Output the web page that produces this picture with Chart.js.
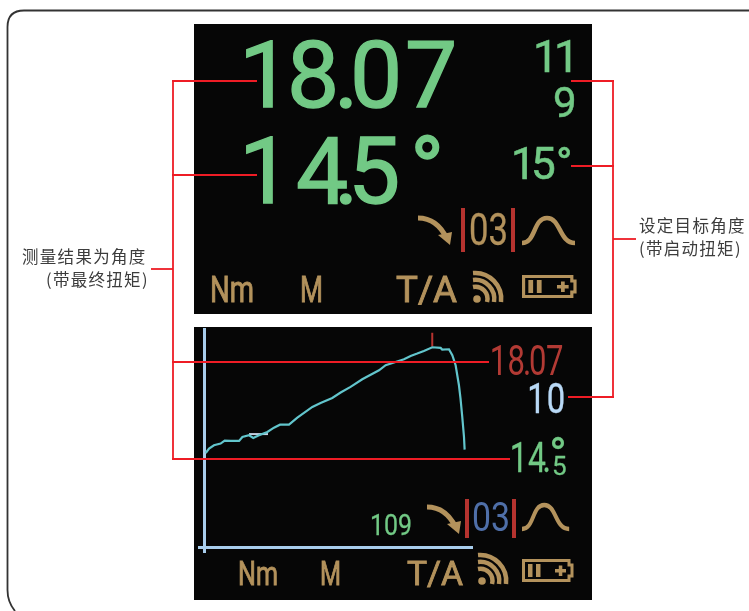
<!DOCTYPE html>
<html>
<head>
<meta charset="utf-8">
<title>测量结果为角度</title>
<script src="https://cdn.jsdelivr.net/npm/chart.js@4/dist/chart.umd.min.js"></script>
<style>
    html, body { margin: 0; padding: 0; background: #fff; overflow: hidden; }
    #page { position: relative; width: 749px; height: 611px; overflow: hidden; }
    .screen { position: absolute; left: 194px; width: 398px; background: #060606; }
    canvas, svg { position: absolute; left: 0; top: 0; }
    .num { font-family: Roboto, sans-serif; }
    .green { fill: #72c985; stroke: #72c985; }
    .tan { fill: #b3925c; stroke: #b3925c; stroke-width: .9; }
    .label { font-family: "Noto Sans CJK SC", sans-serif; font-size: 16.5px; fill: #3c3c3c; letter-spacing: 1.3px; }
    .callout line { stroke: #ee1c25; stroke-width: 1.8; }
    .ico { fill: none; stroke: #b3925c; stroke-width: 4.5; }
</style>
</head>
<body>
<div id="page">
    <svg width="749" height="611"><path d="M749 10.5 H24 Q7.5 10.5 7.5 27 V590 Q7.5 602 15 611" fill="none" stroke="#333" stroke-width="1.8"/></svg>
    <div class="screen" style="top:24px;height:290px"></div>
    <div class="screen" style="top:327px;height:273px"></div>
    <canvas id="torqueChart" width="749" height="611"></canvas>
    <svg width="749" height="611">
        <defs>
            <g id="arrow">
                <path d="M0 1 C14 1 23 9 29 22" fill="none" stroke="#b3925c" stroke-width="5"/>
                <path d="M34 15 L32 28 L20 18 Z" fill="#b3925c"/>
            </g>
            <path id="bell" class="ico" stroke-width="5" d="M0 25 C14 25 11 0 25 0 C39 0 37 25 53 25"/>
            <g id="wifi">
                <circle cx="0" cy="0" r="3.8" fill="#b3925c"/>
                <path class="ico" d="M-4 -12 A12 12 0 0 1 10 3"/>
                <path class="ico" d="M-4 -19 A19 19 0 0 1 17 3"/>
                <path class="ico" d="M-4 -26 A26 26 0 0 1 24 3"/>
            </g>
            <g id="battery">
                <path d="M1.5 1.5 H47 V6 H50 V17 H47 V21.5 H1.5 Z" fill="none" stroke="#b3925c" stroke-width="3"/>
                <rect x="6" y="5" width="4.5" height="13" fill="#b3925c"/>
                <rect x="14" y="5" width="4.5" height="13" fill="#b3925c"/>
                <rect x="33" y="10" width="11" height="3.5" fill="#b3925c"/>
                <rect x="36.8" y="6.5" width="3.5" height="10.5" fill="#b3925c"/>
            </g>
        </defs>

        <!-- top screen -->
        <text class="num green" stroke-width="1.4" font-size="93" y="107" x="239 287 334 350 405">18.07</text>
        <text class="num green" stroke-width="1.4" font-size="93" y="203" x="239 296 334 348">14.5</text>
        <text class="num green" stroke-width="1.4" font-size="92" y="203" x="410">°</text>
        <text class="num green" stroke-width=".6" font-size="45" y="72" x="533 554">11</text>
        <text class="num green" stroke-width=".5" font-size="42" y="117" x="553">9</text>
        <text class="num green" stroke-width=".6" font-size="44" y="179" x="511 531 556">15°</text>

        <use href="#arrow" x="418" y="217"/>
        <rect x="461" y="208" width="4" height="44" fill="#b5332f"/>
        <rect x="511" y="208" width="4" height="44" fill="#b5332f"/>
        <text class="num tan" style="stroke-width:.3" font-size="44" y="245" x="469" textLength="39" lengthAdjust="spacingAndGlyphs">03</text>
        <use href="#bell" x="522" y="218"/>
        <text class="num tan" font-size="36" y="302" x="210" textLength="44" lengthAdjust="spacingAndGlyphs">Nm</text>
        <text class="num tan" font-size="36" y="302" x="300" textLength="23" lengthAdjust="spacingAndGlyphs">M</text>
        <text class="num tan" font-size="36" y="302" x="396" textLength="61" lengthAdjust="spacingAndGlyphs">T/A</text>
        <use href="#wifi" x="477" y="299"/>
        <use href="#battery" transform="translate(522 275) scale(1.06 1)"/>

        <!-- bottom screen -->
        <text class="num" fill="#b23a34" font-size="42" transform="translate(492 375) scale(.74 1)" x="-3 21 42 50 73">18.07</text>
        <text class="num" fill="#b9d9f6" stroke="#b9d9f6" stroke-width=".4" font-size="42" transform="translate(532 413) scale(.78 1)" x="-6 19">10</text>
        <text class="num green" stroke-width=".3" font-size="42" transform="translate(512 472) scale(.76 1)" x="-3 21 40">14.</text>
        <text class="num green" stroke-width=".3" font-size="26" y="475" x="552">5</text>
        <text class="num green" stroke-width=".3" font-size="48" y="472" x="549">°</text>
        <text class="num green" stroke-width=".3" font-size="29" y="535" x="370" textLength="42" lengthAdjust="spacingAndGlyphs">109</text>

        <use href="#arrow" x="427" y="506"/>
        <rect x="465" y="499" width="4" height="39" fill="#b5332f"/>
        <rect x="512" y="499" width="4" height="39" fill="#b5332f"/>
        <text class="num" fill="#4f6fa8" font-size="40" y="531" x="472" textLength="38" lengthAdjust="spacingAndGlyphs">03</text>
        <use href="#bell" transform="translate(522 505) scale(.89 .96)"/>
        <text class="num tan" font-size="34" y="585" x="238" textLength="40" lengthAdjust="spacingAndGlyphs">Nm</text>
        <text class="num tan" font-size="34" y="585" x="320" textLength="21" lengthAdjust="spacingAndGlyphs">M</text>
        <text class="num tan" font-size="34" y="585" x="407" textLength="56" lengthAdjust="spacingAndGlyphs">T/A</text>
        <use href="#wifi" x="482" y="581"/>
        <use href="#battery" x="522" y="559"/>

        <!-- callouts -->
        <g class="callout">
            <line x1="173" y1="80" x2="173" y2="460"/>
            <line x1="172" y1="81" x2="257" y2="81"/>
            <line x1="172" y1="175" x2="257" y2="175"/>
            <line x1="172" y1="362" x2="489" y2="362"/>
            <line x1="172" y1="459" x2="510" y2="459"/>
            <line x1="151" y1="269" x2="173" y2="269"/>
            <line x1="613" y1="80" x2="613" y2="398"/>
            <line x1="571" y1="81" x2="614" y2="81"/>
            <line x1="571" y1="166" x2="614" y2="166"/>
            <line x1="568" y1="397" x2="614" y2="397"/>
            <line x1="613" y1="239" x2="636" y2="239"/>
        </g>
        <text class="label" x="22" y="263">测量结果为角度</text>
        <text class="label" x="46" y="286">(带最终扭矩)</text>
        <text class="label" x="639" y="232">设定目标角度</text>
        <text class="label" x="639" y="255">(带启动扭矩)</text>
    </svg>
</div>
<script>
    // Torque trace (angle in deg, torque in Nm)
    const angles = [0.11, 0.32, 0.63, 1.05, 1.31, 1.69, 2.22, 2.43, 2.85, 3.12, 3.48, 4.01, 4.43, 4.81, 5.38, 5.91, 6.86, 7.38, 8.12, 8.65, 9.28, 10.02, 11.08, 11.50, 12.03, 12.66, 13.08, 13.50, 13.92, 14.45, 14.98, 15.08, 15.51, 15.72, 15.93, 16.14, 16.24, 16.35, 16.46, 16.50];
    const torques = [8.49, 8.89, 9.19, 9.34, 9.61, 9.58, 9.58, 9.94, 10.09, 9.85, 10.09, 10.39, 10.78, 11.05, 11.05, 11.69, 12.65, 13.01, 13.46, 13.95, 14.46, 15.15, 15.96, 16.42, 16.66, 16.96, 17.26, 17.47, 17.71, 18.04, 17.98, 17.83, 17.86, 17.32, 16.42, 14.61, 13.40, 11.75, 9.94, 8.80];

    // Start torque marker
    const startAngles = [2.85, 4.05];
    const startTorques = [10.2, 10.2];

    // Peak marker
    const peakAngles = [14.45, 14.45];
    const peakTorques = [18.1, 19.35];

    function toPoints(xs, ys) {
        return xs.map((x, i) => ({ x: x, y: ys[i] }));
    }

    function axisAtZero(scale) {
        scale.ticks = [{ value: 0 }];
    }

    new Chart(document.getElementById('torqueChart'), {
        type: 'scatter',
        data: {
            datasets: [
                { data: toPoints(angles, torques), showLine: true, borderColor: '#62c5cc', borderWidth: 2.2, pointRadius: 0, tension: 0 },
                { data: toPoints(startAngles, startTorques), showLine: true, borderColor: '#c3cfe0', borderWidth: 2, pointRadius: 0 },
                { data: toPoints(peakAngles, peakTorques), showLine: true, borderColor: '#b5332f', borderWidth: 2, pointRadius: 0 }
            ]
        },
        options: {
            responsive: false,
            animation: false,
            layout: { padding: { left: 198, right: 276, top: 328, bottom: 58 } },
            plugins: { legend: { display: false }, tooltip: { enabled: false } },
            scales: {
                x: {
                    type: 'linear', min: -0.38, max: 17.03,
                    afterBuildTicks: axisAtZero,
                    ticks: { display: false },
                    border: { display: false },
                    grid: { color: '#a8cdec', lineWidth: 3, drawTicks: false }
                },
                y: {
                    type: 'linear', min: -0.54, max: 19.78,
                    afterBuildTicks: axisAtZero,
                    ticks: { display: false },
                    border: { display: false },
                    grid: { color: '#a8cdec', lineWidth: 3, drawTicks: false }
                }
            }
        }
    });
</script>
</body>
</html>
